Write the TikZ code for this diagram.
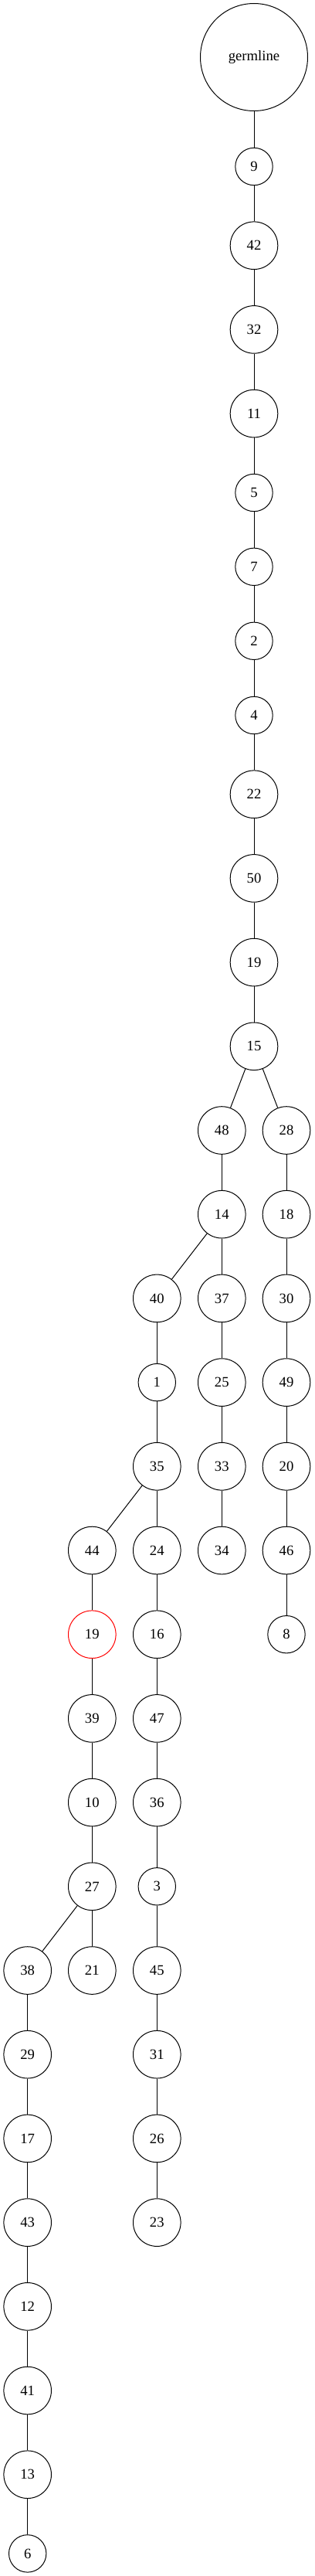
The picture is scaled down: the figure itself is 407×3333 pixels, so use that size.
\documentclass[tikz,border=0pt]{standalone}
\usepackage{fontspec}
\setmainfont{Liberation Serif}
\begin{document}
\begin{tikzpicture}[x=0.75pt,y=-0.75pt,
  nd/.style={circle,draw=black,line width=0.75pt,inner sep=0pt,minimum size=46.2pt,font=\fontsize{14pt}{16pt}\selectfont},
  sd/.style={nd,minimum size=36.3pt},
  gd/.style={nd,minimum size=104.25pt},
  hl/.style={nd,draw=red},
  ed/.style={line width=0.75pt,draw=black}]
\useasboundingbox (0,0) rectangle (407,3333);
% main trunk
\node[gd] (germ) at (329,74) {germline};
\node[sd] (m9) at (329,215.5) {9};
\node[nd] (m42) at (329,317.7) {42};
\node[nd] (m32) at (329,426.4) {32};
\node[nd] (m11) at (329,535.1) {11};
\node[sd] (m5) at (329,637.5) {5};
\node[sd] (m7) at (329,733.3) {7};
\node[sd] (m2) at (329,829.3) {2};
\node[sd] (m4) at (329,925.5) {4};
\node[nd] (m22) at (329,1027.7) {22};
\node[nd] (m50) at (329,1136.4) {50};
\node[nd] (a19) at (329,1245.1) {19};
\node[nd] (m15) at (329,1353.8) {15};
% right branches
\node[nd] (m48) at (287.3,1462.5) {48};
\node[nd] (m28) at (371,1462.5) {28};
\node[nd] (m14) at (287.3,1571.2) {14};
\node[nd] (m18) at (371,1571.2) {18};
\node[nd] (m40) at (203.3,1679.9) {40};
\node[nd] (m37) at (287.3,1679.9) {37};
\node[nd] (m30) at (371,1679.9) {30};
\node[sd] (m1) at (203.3,1788.6) {1};
\node[nd] (m25) at (287.3,1788.6) {25};
\node[nd] (m49) at (371,1788.6) {49};
\node[nd] (m35) at (203.3,1897.3) {35};
\node[nd] (m33) at (287.3,1897.3) {33};
\node[nd] (m20) at (371,1897.3) {20};
\node[nd] (m44) at (119.3,2006.0) {44};
\node[nd] (m24) at (203.3,2006.0) {24};
\node[nd] (m34) at (287.3,2006.0) {34};
\node[nd] (m46) at (371,2006.0) {46};
\node[hl] (b19) at (119.3,2114.7) {19};
\node[nd] (m16) at (203.3,2114.7) {16};
\node[sd] (m8) at (371,2114.7) {8};
\node[nd] (m39) at (119.3,2223.4) {39};
\node[nd] (m47) at (203.3,2223.4) {47};
\node[nd] (m10) at (119.3,2332.1) {10};
\node[nd] (m36) at (203.3,2332.1) {36};
\node[nd] (m27) at (119.3,2440.8) {27};
\node[sd] (m3) at (203.3,2440.8) {3};
\node[nd] (m38) at (35.7,2549.5) {38};
\node[nd] (m21) at (119.3,2549.5) {21};
\node[nd] (m45) at (203.3,2549.5) {45};
\node[nd] (m29) at (35.7,2658.2) {29};
\node[nd] (m31) at (203.3,2658.2) {31};
\node[nd] (m17) at (35.7,2766.9) {17};
\node[nd] (m26) at (203.3,2766.9) {26};
\node[nd] (m43) at (35.7,2875.6) {43};
\node[nd] (m23) at (203.3,2875.6) {23};
\node[nd] (m12) at (35.7,2984.3) {12};
\node[nd] (m41) at (35.7,3093.0) {41};
\node[nd] (m13) at (35.7,3201.7) {13};
\node[sd] (m6) at (35.7,3303.9) {6};
% edges
\draw[ed] (germ) -- (m9);
\draw[ed] (m9) -- (m42);
\draw[ed] (m42) -- (m32);
\draw[ed] (m32) -- (m11);
\draw[ed] (m11) -- (m5);
\draw[ed] (m5) -- (m7);
\draw[ed] (m7) -- (m2);
\draw[ed] (m2) -- (m4);
\draw[ed] (m4) -- (m22);
\draw[ed] (m22) -- (m50);
\draw[ed] (m50) -- (a19);
\draw[ed] (a19) -- (m15);
\draw[ed] (m15) -- (m48);
\draw[ed] (m15) -- (m28);
\draw[ed] (m48) -- (m14);
\draw[ed] (m14) -- (m40);
\draw[ed] (m14) -- (m37);
\draw[ed] (m40) -- (m1);
\draw[ed] (m1) -- (m35);
\draw[ed] (m35) -- (m44);
\draw[ed] (m35) -- (m24);
\draw[ed] (m44) -- (b19);
\draw[ed] (b19) -- (m39);
\draw[ed] (m39) -- (m10);
\draw[ed] (m10) -- (m27);
\draw[ed] (m27) -- (m38);
\draw[ed] (m27) -- (m21);
\draw[ed] (m38) -- (m29);
\draw[ed] (m29) -- (m17);
\draw[ed] (m17) -- (m43);
\draw[ed] (m43) -- (m12);
\draw[ed] (m12) -- (m41);
\draw[ed] (m41) -- (m13);
\draw[ed] (m13) -- (m6);
\draw[ed] (m24) -- (m16);
\draw[ed] (m16) -- (m47);
\draw[ed] (m47) -- (m36);
\draw[ed] (m36) -- (m3);
\draw[ed] (m3) -- (m45);
\draw[ed] (m45) -- (m31);
\draw[ed] (m31) -- (m26);
\draw[ed] (m26) -- (m23);
\draw[ed] (m37) -- (m25);
\draw[ed] (m25) -- (m33);
\draw[ed] (m33) -- (m34);
\draw[ed] (m28) -- (m18);
\draw[ed] (m18) -- (m30);
\draw[ed] (m30) -- (m49);
\draw[ed] (m49) -- (m20);
\draw[ed] (m20) -- (m46);
\draw[ed] (m46) -- (m8);
\end{tikzpicture}
\end{document}
